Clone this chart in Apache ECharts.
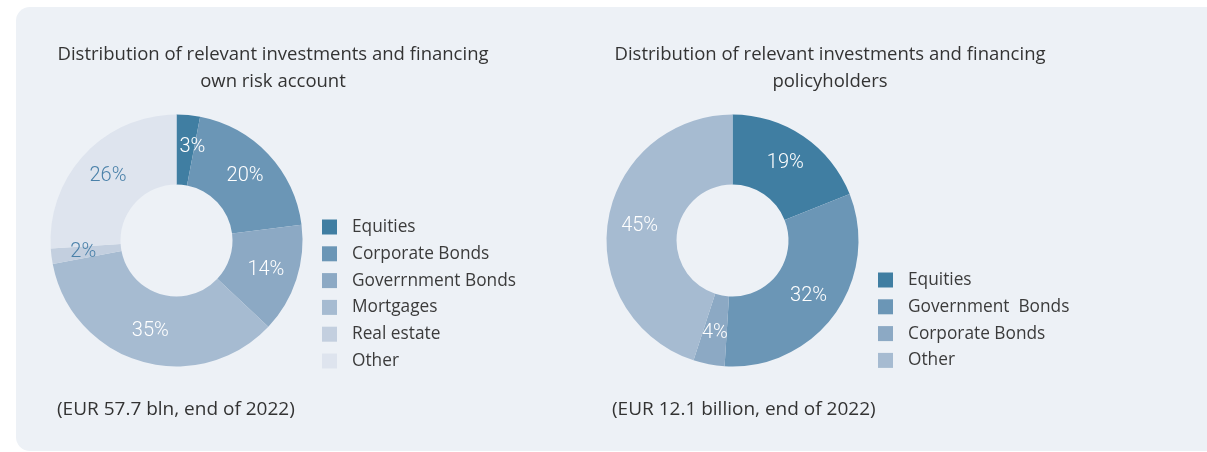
<!DOCTYPE html>
<html>
<head>
<meta charset="utf-8">
<script src="https://cdn.jsdelivr.net/npm/echarts@6/dist/echarts.min.js"></script>
<style>
  html, body { margin: 0; padding: 0; background: #ffffff; }
  #chart { width: 1207px; height: 452px; }
</style>
</head>
<body>
<div id="chart"></div>
<script>
// Own risk account breakdown (percent of total)
const ownCategories = ['Equities', 'Corporate Bonds', 'Goverrnment Bonds', 'Mortgages', 'Real estate', 'Other'];
const ownValues = [3, 20, 14, 35, 2, 26];
const ownColors = ['#407ea2', '#6b96b6', '#8ca9c4', '#a6bbd1', '#c3cfdf', '#dee4ee'];
const ownLabelColors = ['#ffffff', '#ffffff', '#ffffff', '#ffffff', '#4a81a9', '#4a81a9'];

// Policyholders breakdown (percent of total)
const phCategories = ['Equities', 'Government  Bonds', 'Corporate Bonds', 'Other'];
const phValues = [19, 32, 4, 45];
const phColors = ['#407ea2', '#6b96b6', '#8ca9c4', '#a6bbd1'];
const phLabelColors = ['#ffffff', '#ffffff', '#ffffff', '#ffffff'];

const titles = [
  'Distribution of relevant investments and financing\nown risk account',
  'Distribution of relevant investments and financing\npolicyholders'
];
const footnotes = ['(EUR 57.7 bln, end of 2022)', '(EUR 12.1 billion, end of 2022)'];

const textFont = '"Open Sans", "Liberation Sans", sans-serif';
const labelFont = 'Roboto, "DejaVu Sans", sans-serif';

function pieData(names, values, colors, labelColors, nudgeFirst) {
  return names.map((n, i) => {
    const label = { color: labelColors[i] };
    // a very thin first wedge gets its label nudged right and up
    if (nudgeFirst && i === 0) label.padding = [0, 0, 8, 14];
    return {
      name: n,
      value: values[i],
      itemStyle: { color: colors[i] },
      label: label
    };
  });
}

function legendData(names, colors) {
  return names.map((n, i) => ({ name: n, itemStyle: { color: colors[i] } }));
}

function pieSeries(center, data) {
  return {
    type: 'pie',
    center: center,
    radius: [56, 126],
    startAngle: 90,
    clockwise: true,
    silent: true,
    avoidLabelOverlap: false,
    label: {
      show: true,
      position: 'inside',
      formatter: '{c}%',
      fontFamily: labelFont,
      fontWeight: 300,
      fontSize: 20
    },
    labelLine: { show: false },
    emphasis: { disabled: true },
    data: data
  };
}

function legend(left, top, names, colors) {
  return {
    orient: 'vertical',
    left: left,
    top: top,
    itemWidth: 15,
    itemHeight: 15,
    itemGap: 9.8,
    icon: 'rect',
    selectedMode: false,
    textStyle: {
      fontFamily: textFont,
      fontSize: 17.3,
      color: '#3b3b3b',
      padding: [0, 0, 0, 10],
      lineHeight: 15
    },
    data: legendData(names, colors)
  };
}

const titleStyle = { fontFamily: textFont, fontWeight: 'normal', fontSize: 18.5, color: '#333333', lineHeight: 27 };
const noteStyle = { fontFamily: textFont, fontWeight: 'normal', fontSize: 19, color: '#333333' };

const chart = echarts.init(document.getElementById('chart'), null, { renderer: 'canvas' });

chart.setOption({
  animation: false,
  graphic: [{
    type: 'rect',
    z: -10,
    shape: { x: 16, y: 7, width: 1220, height: 444, r: 14 },
    style: { fill: '#edf1f6' }
  }],
  title: [
    { text: titles[0], left: 268, top: 36, textAlign: 'center', textStyle: titleStyle },
    { text: titles[1], left: 825, top: 36, textAlign: 'center', textStyle: titleStyle },
    { text: footnotes[0], left: 52, top: 395, textStyle: noteStyle },
    { text: footnotes[1], left: 607, top: 395, textStyle: noteStyle }
  ],
  legend: [
    legend(317, 213.5, ownCategories, ownColors),
    legend(873, 266.5, phCategories, phColors)
  ],
  series: [
    pieSeries([176.5, 240.5], pieData(ownCategories, ownValues, ownColors, ownLabelColors, true)),
    pieSeries([732.5, 240.5], pieData(phCategories, phValues, phColors, phLabelColors, false))
  ]
});
</script>
</body>
</html>
